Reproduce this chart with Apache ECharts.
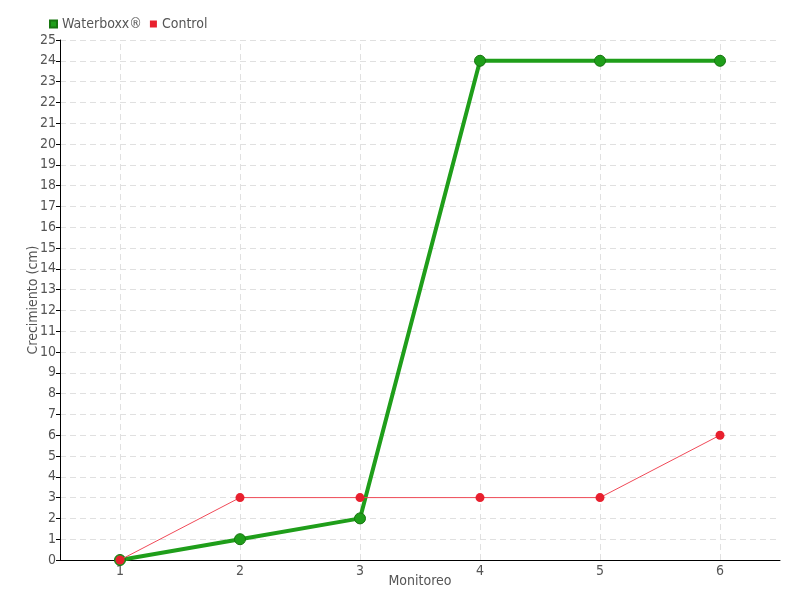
<!DOCTYPE html>
<html><head><meta charset="utf-8">
<script src="https://cdn.jsdelivr.net/npm/echarts@6/dist/echarts.min.js"></script>
<style>html,body{margin:0;padding:0;background:#fff}#c{width:800px;height:600px}</style>
</head><body><div id="c"></div>
<script>
const categories = ['1','2','3','4','5','6'];
const waterboxx = [0,1,2,24,24,24];
const control = [0,3,3,3,3,6];
const FONT = "'Liberation Sans Narrow','DejaVu Sans Condensed',sans-serif";
const chart = echarts.init(document.getElementById('c'));
chart.setOption({
  animation:false,
  textStyle:{fontFamily:FONT},
  legend:{left:44,top:12,itemWidth:7,itemHeight:7,itemGap:8,icon:'rect',
    textStyle:{fontFamily:FONT,fontSize:14,color:'#555'},
    data:['Waterboxx®','Control']},
  grid:{left:60,right:20,top:40,bottom:40},
  xAxis:{type:'category',data:categories,boundaryGap:true,
    name:'Monitoreo',nameLocation:'middle',nameGap:14,nameMoveOverlap:false,
    nameTextStyle:{fontFamily:FONT,fontSize:14,color:'#555',verticalAlign:'top'},
    axisLine:{lineStyle:{color:'#000',width:1}},
    axisTick:{alignWithLabel:true,length:4,lineStyle:{color:'#000'}},
    axisLabel:{fontFamily:FONT,fontSize:14,color:'#555',margin:4},
    splitLine:{show:false}},
  yAxis:{type:'value',min:0,max:25,interval:1,
    name:'Crecimiento (cm)',nameLocation:'middle',nameGap:20,nameMoveOverlap:false,
    nameTextStyle:{fontFamily:FONT,fontSize:14,color:'#555'},
    axisLine:{show:true,lineStyle:{color:'#000',width:1}},
    axisTick:{show:true,length:4,inside:false,lineStyle:{color:'#000'}},
    axisLabel:{fontFamily:FONT,fontSize:14,color:'#555',margin:4},
    splitLine:{show:true,lineStyle:{color:'#e0e0e0',type:[6,4]}}},
  series:[
    {name:'Waterboxx®',type:'line',data:waterboxx,color:'#1f9e1a',z:3,
      symbol:'circle',symbolSize:11,
      lineStyle:{width:4,color:'#1f9e1a'},
      itemStyle:{color:'#1f9e1a',borderColor:'#16760f',borderWidth:1},
      markLine:{silent:true,symbol:'none',label:{show:false},z:1,
        lineStyle:{color:'#e0e0e0',type:[6,4],width:1},
        emphasis:{disabled:true},
        data:categories.map(c=>({xAxis:c}))}},
    {name:'Control',type:'line',data:control,color:'#e8202e',z:4,
      symbol:'circle',symbolSize:9,
      lineStyle:{width:1,color:'#f04a58'},
      itemStyle:{color:'#e8202e',borderColor:'#e8202e',borderWidth:0}}
  ]
});
</script></body></html>
